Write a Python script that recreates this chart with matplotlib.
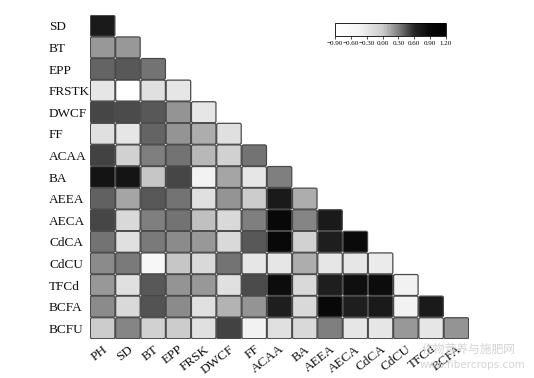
import matplotlib
matplotlib.use("Agg")
import matplotlib.pyplot as plt
from matplotlib.colors import LinearSegmentedColormap, Normalize
from matplotlib.patches import FancyBboxPatch
import matplotlib.cm as cm

row_labels = ["SD", "BT", "EPP", "FRSTK", "DWCF", "FF", "ACAA", "BA", "AEEA",
              "AECA", "CdCA", "CdCU", "TFCd", "BCFA", "BCFU"]
col_labels = ["PH", "SD", "BT", "EPP", "FRSK", "DWCF", "FF", "ACAA", "BA",
              "AEEA", "AECA", "CdCA", "CdCU", "TFCd", "BCFA"]

r_SD = [0.72]
r_BT = [0.20, 0.20]
r_EPP = [0.39, 0.43, 0.34]
r_FRSTK = [-0.28, -0.90, -0.22, -0.28]
r_DWCF = [0.49, 0.47, 0.43, 0.22, -0.28]
r_FF = [-0.22, -0.28, 0.39, 0.22, 0.12, -0.22]
r_ACAA = [0.51, -0.06, 0.30, 0.34, 0.08, -0.06, 0.34]
r_BA = [0.78, 0.78, 0.02, 0.49, -0.42, 0.15, -0.28, 0.30]
r_AEEA = [0.40, 0.15, 0.43, 0.34, -0.22, 0.22, 0.00, 0.72, 0.12]
r_AECA = [0.49, -0.14, 0.30, 0.34, 0.05, -0.14, 0.30, 0.90, 0.28, 0.72]
r_CdCA = [0.34, -0.22, 0.32, 0.25, 0.20, -0.14, 0.43, 0.90, -0.06, 0.68, 0.88]
r_CdCU = [0.25, 0.32, -0.56, 0.02, -0.14, 0.34, -0.28, -0.28, 0.12, -0.28, -0.28, -0.34]
r_TFCd = [0.20, -0.22, 0.43, 0.22, 0.20, -0.22, 0.47, 0.85, -0.14, 0.68, 0.83, 0.85, -0.42]
r_BCFA = [0.25, -0.14, 0.45, 0.25, -0.22, 0.10, 0.22, 0.68, -0.14, 0.90, 0.68, 0.72, -0.42, 0.72]
r_BCFU = [0.00, 0.28, -0.06, 0.00, -0.22, 0.51, -0.42, -0.22, -0.14, 0.30, -0.28, -0.28, 0.20, -0.28, 0.22]

rows = [r_SD, r_BT, r_EPP, r_FRSTK, r_DWCF, r_FF, r_ACAA, r_BA, r_AEEA,
        r_AECA, r_CdCA, r_CdCU, r_TFCd, r_BCFA, r_BCFU]

cbar_ticks = [-0.90, -0.60, -0.30, 0.00, 0.30, 0.60, 0.90, 1.20]
vmin, vmax = -0.9, 1.2

def pos(v):
    return (v - vmin) / (vmax - vmin)

cmap = LinearSegmentedColormap.from_list(
    "gw",
    [(pos(-0.9), (1.0, 1.0, 1.0)),
     (pos(-0.45), (0.96, 0.96, 0.96)),
     (pos(0.0), (0.80, 0.80, 0.80)),
     (pos(0.3), (0.50, 0.50, 0.50)),
     (pos(0.6), (0.15, 0.15, 0.15)),
     (pos(0.9), (0.03, 0.03, 0.03)),
     (pos(1.2), (0.0, 0.0, 0.0))])
norm = Normalize(vmin=vmin, vmax=vmax)

serif = ["Liberation Serif", "DejaVu Serif"]

fig = plt.figure(figsize=(5.34, 3.78), dpi=100)
ax = fig.add_axes([90/534, 1-339/378, 379/534, 324/378])
n = len(row_labels)
for i, vals in enumerate(rows):
    for j, v in enumerate(vals):
        p = FancyBboxPatch((j + 0.015, i + 0.015), 0.97, 0.97,
                           boxstyle="round,pad=0,rounding_size=0.07",
                           facecolor=cmap(norm(v)), edgecolor="#4a4a4a",
                           linewidth=0.9)
        ax.add_patch(p)
ax.set_xlim(0, n)
ax.set_ylim(n, 0)
for s in ax.spines.values():
    s.set_visible(False)
ax.set_yticks([i + 0.5 for i in range(n)])
ax.set_yticklabels(row_labels, fontfamily=serif, fontsize=9.5, ha="left",
                   color="#111111")
ax.tick_params(axis="y", length=0, pad=29.5)
ax.set_xticks([j + 0.5 for j in range(n)])
ax.set_xticklabels(col_labels, fontfamily=serif, fontsize=9.5, rotation=38,
                   ha="right", rotation_mode="anchor", color="#111111")
ax.tick_params(axis="x", length=0, pad=3)

cax = fig.add_axes([335/534, 1-36/378, 111/534, 13/378])
sm = cm.ScalarMappable(norm=norm, cmap=cmap)
cb = fig.colorbar(sm, cax=cax, orientation="horizontal", ticks=cbar_ticks)
cb.ax.set_xticklabels([f"{t:.2f}".replace("-", "\u2212") for t in cbar_ticks],
                      fontfamily=serif, fontsize=5)
cb.ax.tick_params(length=2, width=0.5, pad=1.5)
cb.outline.set_linewidth(0.6)

fig.text(422/534, 1-349/378, "作物营养与施肥网", fontsize=8.5, color="#d4d4d4",
         family=["Noto Sans CJK SC", "DejaVu Sans"], va="center", ha="left")
fig.text(420/534, 1-365/378, "www.fibercrops.com", fontsize=7.5, color="#d4d4d4",
         family=["DejaVu Sans"], va="center", ha="left")

fig.savefig("out.png", dpi=100)
